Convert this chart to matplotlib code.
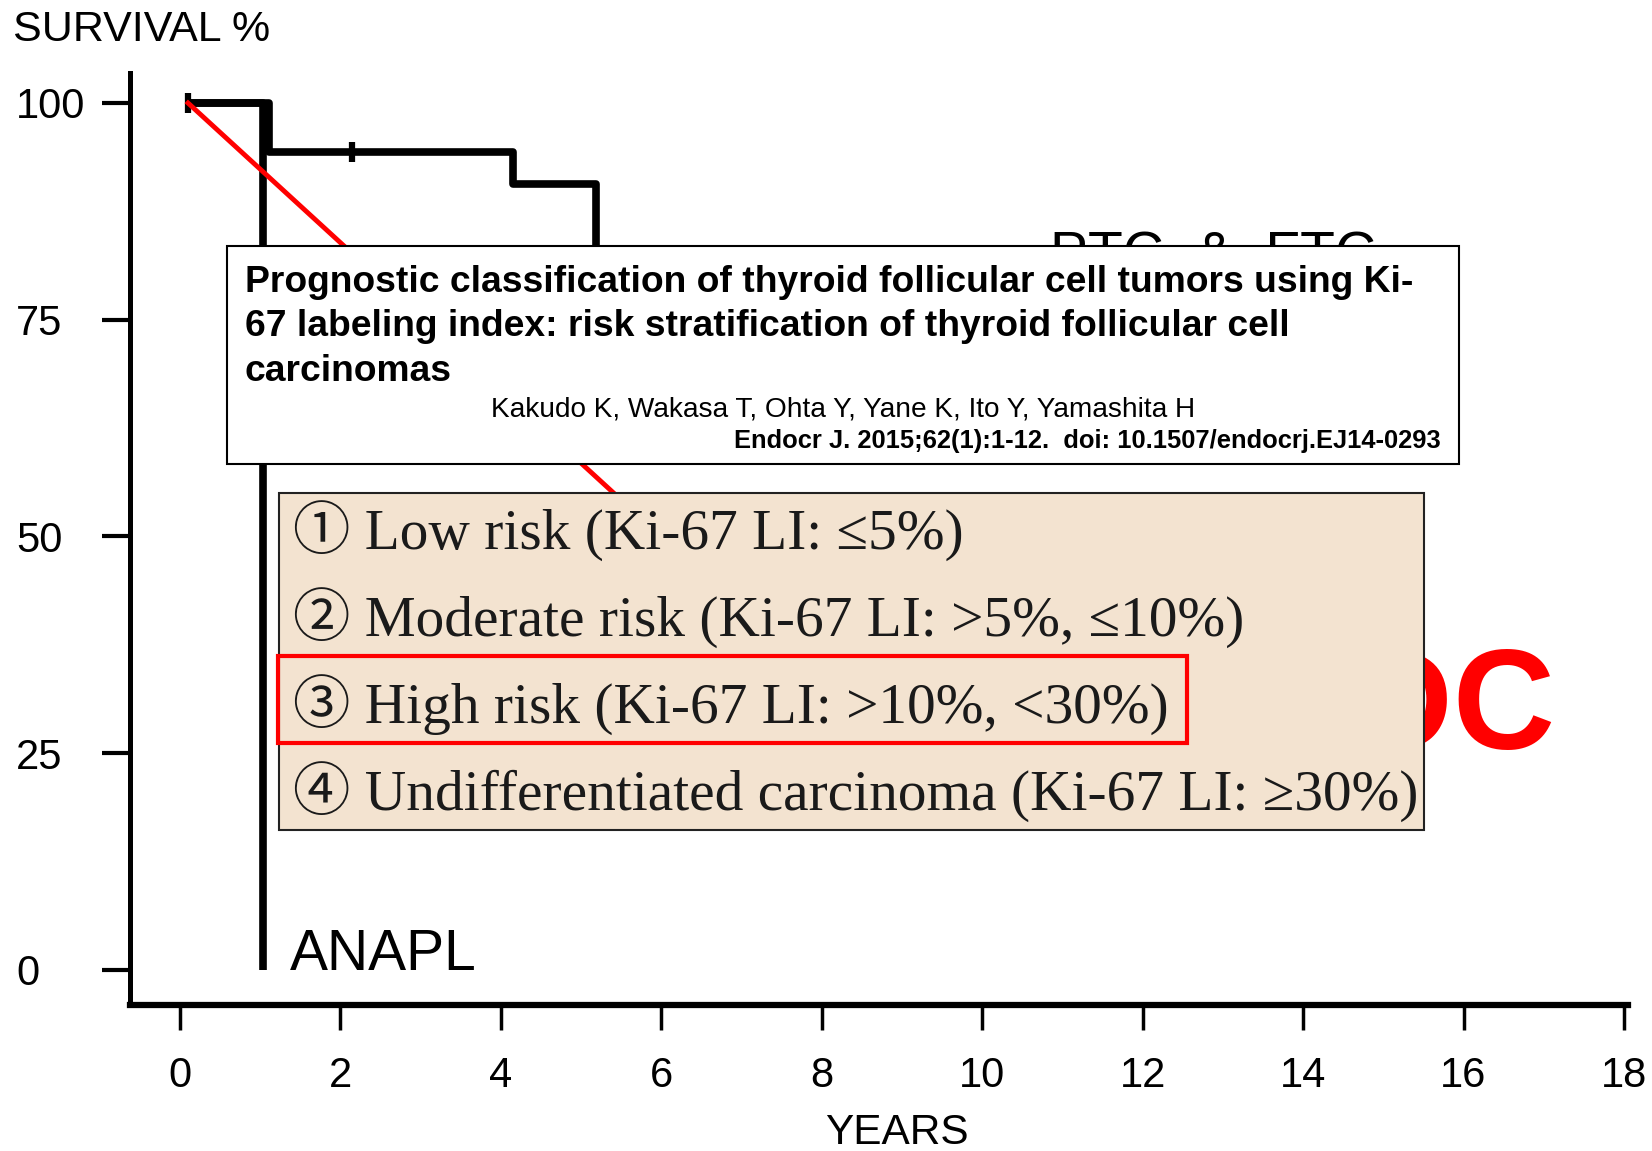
import numpy as np
import matplotlib.pyplot as plt
from matplotlib.patches import Rectangle

# survival curves (years, survival %)
ptc_years = [0.10, 1.11, 4.15, 5.19, 14.0]
ptc_surv = [100, 94.35, 90.66, 81.0, 81.0]
anapl_years = [0.10, 1.03, 1.03]
anapl_surv = [100, 100, 0]
censor_years = [0.10, 2.14]
censor_surv = [100, 94.35]
red_years = [0.10, 7.0]
red_surv = [100, 41.5]

x_ticks = [0, 2, 4, 6, 8, 10, 12, 14, 16, 18]
y_ticks = [0, 25, 50, 75, 100]

title_lines = ["Prognostic classification of thyroid follicular cell tumors using Ki-",
               "67 labeling index: risk stratification of thyroid follicular cell",
               "carcinomas"]
authors = "Kakudo K, Wakasa T, Ohta Y, Yane K, Ito Y, Yamashita H"
citation = "Endocr J. 2015;62(1):1-12.  doi: 10.1507/endocrj.EJ14-0293"
risk_lines = ["\u2460 Low risk (Ki-67 LI: \u22645%)",
              "\u2461 Moderate risk (Ki-67 LI: >5%, \u226410%)",
              "\u2462 High risk (Ki-67 LI: >10%, <30%)",
              "\u2463 Undifferentiated carcinoma (Ki-67 LI: \u226530%)"]

W, H = 1652, 1151
plt.rcParams['font.family'] = ['Liberation Sans', 'DejaVu Sans']


def fx(px):
    return px / W


def fy(py):
    return 1 - py / H


fig = plt.figure(figsize=(W / 100, H / 100), dpi=100)
ax = fig.add_axes([fx(130), fy(1005), (1628 - 130) / W, (1005 - 73) / H])
ax.set_xlim(-0.623, 18.05)
ax.set_ylim(-4.04, 103.46)

ax.step(ptc_years, ptc_surv, where='post', color='black', lw=5.5, solid_capstyle='butt')
ax.step(anapl_years, anapl_surv, where='post', color='black', lw=5.5, solid_capstyle='butt')
ax.plot(censor_years, censor_surv, ls='none', marker='|', ms=15, mew=4.5, color='black')
ax.plot(red_years, red_surv, color='red', lw=3.5)

ax.text(1.37, 0, "ANAPL", fontsize=41, va='baseline')
ax.text(10.85, 80.4, "PTC  &  FTC", fontsize=41, va='baseline')
ax.text(17.15, 25.5, "PDC", fontsize=102, fontweight='bold', color='red',
        ha='right', va='baseline')

for s in ['top', 'right']:
    ax.spines[s].set_visible(False)
ax.spines['left'].set_linewidth(3.6)
ax.spines['bottom'].set_linewidth(4.5)

ax.set_xticks(x_ticks)
ax.set_yticks(y_ticks)
ax.tick_params(axis='y', direction='out', length=20, width=3, labelsize=30, pad=62)
ax.tick_params(axis='x', direction='out', length=18, width=2.5, labelsize=30, pad=19)
for lab in ax.get_yticklabels():
    lab.set_horizontalalignment('left')
ax.set_xlabel("YEARS", fontsize=30.5)
ax.xaxis.set_label_coords(0.512, -0.116)

fig.text(fx(13), fy(41), "SURVIVAL %", fontsize=31, va='baseline')

# reference box
fig.patches.append(Rectangle((fx(227), fy(464)), (1459 - 227) / W, (464 - 246) / H,
                             transform=fig.transFigure, facecolor='white',
                             edgecolor='black', lw=1.5, zorder=1))
for i, line in enumerate(title_lines):
    fig.text(fx(245), fy(292 + 44.5 * i), line, fontsize=26.8, fontweight='bold',
             va='baseline')
fig.text(fx(491), fy(416), authors, fontsize=20.2, va='baseline')
fig.text(fx(1441), fy(448), citation, fontsize=18.4, fontweight='bold',
         va='baseline', ha='right')

# risk box
fig.patches.append(Rectangle((fx(279), fy(830)), (1424 - 279) / W, (830 - 493) / H,
                             transform=fig.transFigure, facecolor='#F3E3D0',
                             edgecolor='#222222', lw=1.5, zorder=1))
fig.patches.append(Rectangle((fx(278), fy(743)), (1187 - 278) / W, (743 - 656) / H,
                             transform=fig.transFigure, facecolor='none',
                             edgecolor='red', lw=3, zorder=2))
for i, line in enumerate(risk_lines):
    fig.text(fx(293), fy(550 + 87 * i), line, fontsize=41.3, color='#1a1a1a',
             va='baseline', family=['Liberation Serif', 'Noto Sans CJK JP'])

fig.savefig("out.png", dpi=100)
